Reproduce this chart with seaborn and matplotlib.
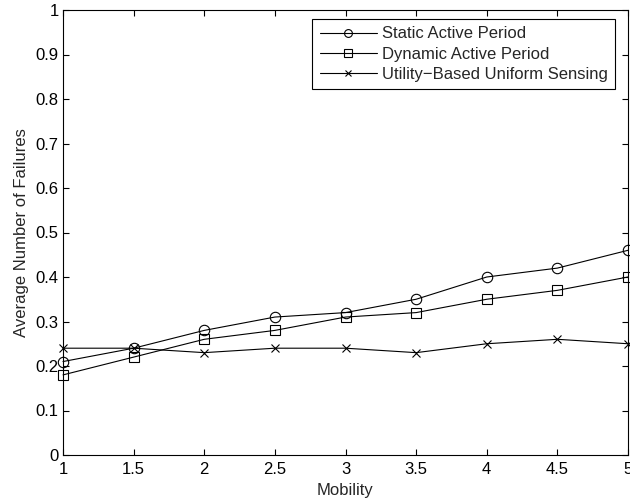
import matplotlib
matplotlib.use("Agg")
import matplotlib.pyplot as plt
import seaborn as sns
import pandas as pd

mobility = [1, 1.5, 2, 2.5, 3, 3.5, 4, 4.5, 5]
static_active = [0.21, 0.24, 0.28, 0.31, 0.32, 0.35, 0.40, 0.42, 0.46]
dynamic_active = [0.18, 0.22, 0.26, 0.28, 0.31, 0.32, 0.35, 0.37, 0.40]
utility_uniform = [0.24, 0.24, 0.23, 0.24, 0.24, 0.23, 0.25, 0.26, 0.25]
series_names = ["Static Active Period", "Dynamic Active Period", "Utility\u2212Based Uniform Sensing"]
x_ticks = [1, 1.5, 2, 2.5, 3, 3.5, 4, 4.5, 5]
y_ticks = [0, 0.1, 0.2, 0.3, 0.4, 0.5, 0.6, 0.7, 0.8, 0.9, 1]

sns.set_theme(style="ticks")
plt.rcParams['font.family'] = ['Liberation Sans', 'DejaVu Sans']

W, H = 630, 504
fig = plt.figure(figsize=(W / 100, H / 100), dpi=100)
ax = fig.add_axes([63 / W, 1 - 455 / H, 565 / W, 445 / H])

marker_list = ["o", "s", "x"]
marker_sizes = [7.5, 7, 6]
for name, vals, mk, ms in zip(series_names, [static_active, dynamic_active, utility_uniform],
                              marker_list, marker_sizes):
    df = pd.DataFrame({"Mobility": mobility, "Value": vals})
    sns.lineplot(data=df, x="Mobility", y="Value", color="black", label=name,
                 marker=mk, linewidth=0.8, markersize=ms,
                 markerfacecolor="none", markeredgecolor="black",
                 markeredgewidth=0.8, ax=ax, clip_on=False)

ax.set_xlim(1, 5)
ax.set_ylim(0, 1)
ax.set_xticks(x_ticks)
ax.set_xticklabels([f"{t:g}" for t in x_ticks])
ax.set_yticks(y_ticks)
ax.set_yticklabels([f"{t:g}" for t in y_ticks])
ax.tick_params(direction="in", top=True, right=True, length=4.5, width=0.8,
               labelsize=12, colors="black")
ax.tick_params(axis="x", pad=5)
ax.tick_params(axis="y", pad=3)
for s in ax.spines.values():
    s.set_visible(True)
    s.set_linewidth(0.8)
    s.set_color("black")
ax.set_xlabel("Mobility", fontsize=12, labelpad=4)
ax.set_ylabel("Average Number of Failures", fontsize=12, labelpad=5)

leg = ax.legend(loc="upper right", bbox_to_anchor=(615 / W, 1 - 19 / H),
                bbox_transform=fig.transFigure, borderaxespad=0,
                fontsize=12, frameon=True, fancybox=False,
                edgecolor="black", framealpha=1, handlelength=3.4,
                labelspacing=0.3, handletextpad=0.3,
                borderpad=0.45, markerscale=0.75)
leg.get_frame().set_linewidth(0.8)
for h in leg.legend_handles:
    h.set_markerfacecolor("none")
    h.set_markeredgecolor("black")
    h.set_color("black")

fig.savefig("out.png", dpi=100)
